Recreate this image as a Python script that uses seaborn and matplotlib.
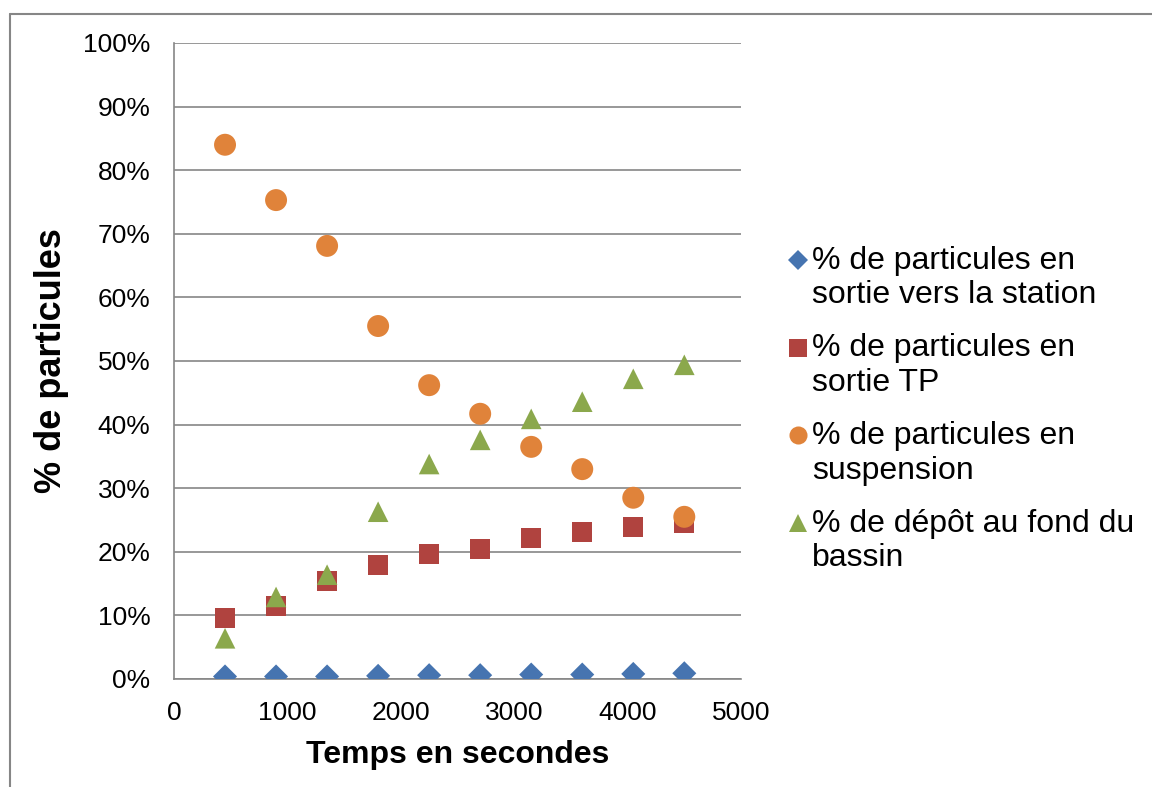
import numpy as np
import pandas as pd
import matplotlib
matplotlib.use("Agg")
import matplotlib.pyplot as plt
from matplotlib.lines import Line2D
from matplotlib.legend_handler import HandlerLine2D
import seaborn as sns

# data
temps = [450, 900, 1350, 1800, 2250, 2700, 3150, 3600, 4050, 4500]
station = [0.4, 0.4, 0.4, 0.5, 0.6, 0.6, 0.7, 0.7, 0.8, 0.9]
sortie_tp = [9.6, 11.5, 15.4, 17.9, 19.7, 20.4, 22.2, 23.1, 23.9, 24.5]
suspension = [84.0, 75.3, 68.1, 55.5, 46.2, 41.7, 36.5, 33.0, 28.5, 25.5]
depot = [6.4, 12.9, 16.4, 26.3, 33.8, 37.6, 40.9, 43.6, 47.2, 49.4]

series_names = [
    "% de particules en\nsortie vers la station",
    "% de particules en\nsortie TP",
    "% de particules en\nsuspension",
    "% de dépôt au fond du\nbassin",
]
series_values = [station, sortie_tp, suspension, depot]
colors = ["#4674B0", "#B0433F", "#E0833A", "#8BA84C"]
markers = ["D", "s", "o", "^"]
sizes = [150, 210, 250, 220]

df = pd.concat([
    pd.DataFrame({"temps": temps, "pct": vals, "serie": name})
    for name, vals in zip(series_names, series_values)
], ignore_index=True)

sns.set_style("white")
plt.rcParams["font.family"] = ["Liberation Sans", "DejaVu Sans"]
plt.rcParams["text.color"] = "black"
plt.rcParams["axes.labelcolor"] = "black"


class FirstLineHandler(HandlerLine2D):
    # put the marker next to the first line of a two-line label
    def create_artists(self, legend, orig_handle, xdescent, ydescent, width,
                       height, fontsize, trans):
        return super().create_artists(legend, orig_handle, xdescent,
                                      ydescent - 1.15 * fontsize, width, height,
                                      fontsize, trans)


fig = plt.figure(figsize=(11.52, 7.87), dpi=100)
ax = fig.add_axes([174 / 1152, 1 - 679 / 787, (741 - 174) / 1152, (679 - 43) / 787])

for name, col, mk, sz in zip(series_names, colors, markers, sizes):
    sub = df[df["serie"] == name]
    sns.scatterplot(data=sub, x="temps", y="pct", ax=ax, color=col, marker=mk,
                    s=sz, edgecolor="none", linewidth=0, zorder=3, legend=False)

ax.set_xlim(0, 5000)
ax.set_ylim(0, 100)
ax.set_xticks(range(0, 5001, 1000))
ax.set_yticks(range(0, 101, 10))
ax.set_yticklabels([f"{v}%" for v in range(0, 101, 10)])
ax.tick_params(axis="both", labelsize=19, length=0, colors="black")
ax.tick_params(axis="y", pad=17)
ax.tick_params(axis="x", pad=16)
ax.grid(axis="y", color="#868686", linewidth=1.2)
ax.set_axisbelow(True)
for side in ["top", "right"]:
    ax.spines[side].set_visible(False)
for side in ["left", "bottom"]:
    ax.spines[side].set_color("#868686")
    ax.spines[side].set_linewidth(1.2)
ax.set_xlabel("Temps en secondes", fontsize=23, fontweight="bold", labelpad=11)
ax.set_ylabel("% de particules", fontsize=26, fontweight="bold", labelpad=10)

handles = [Line2D([], [], linestyle="none", marker=mk, color=col, markersize=ms,
                  markeredgewidth=0)
           for col, mk, ms in zip(colors, markers, [10, 13, 13, 13])]
fig.legend(handles, series_names, loc="upper left",
           bbox_to_anchor=(775 / 1152, 1 - 233 / 787),
           frameon=False, fontsize=23, handlelength=0.66, handletextpad=0.1,
           labelspacing=0.72, borderaxespad=0,
           handler_map={Line2D: FirstLineHandler()})

# outer chart frame (top and left edges visible)
fig.add_artist(Line2D([10 / 1152, 10 / 1152], [0, 1 - 14 / 787], transform=fig.transFigure,
                      color="#868686", linewidth=1.5))
fig.add_artist(Line2D([10 / 1152, 1], [1 - 14 / 787, 1 - 14 / 787], transform=fig.transFigure,
                      color="#868686", linewidth=1.5))

fig.savefig("out.png", dpi=100)
